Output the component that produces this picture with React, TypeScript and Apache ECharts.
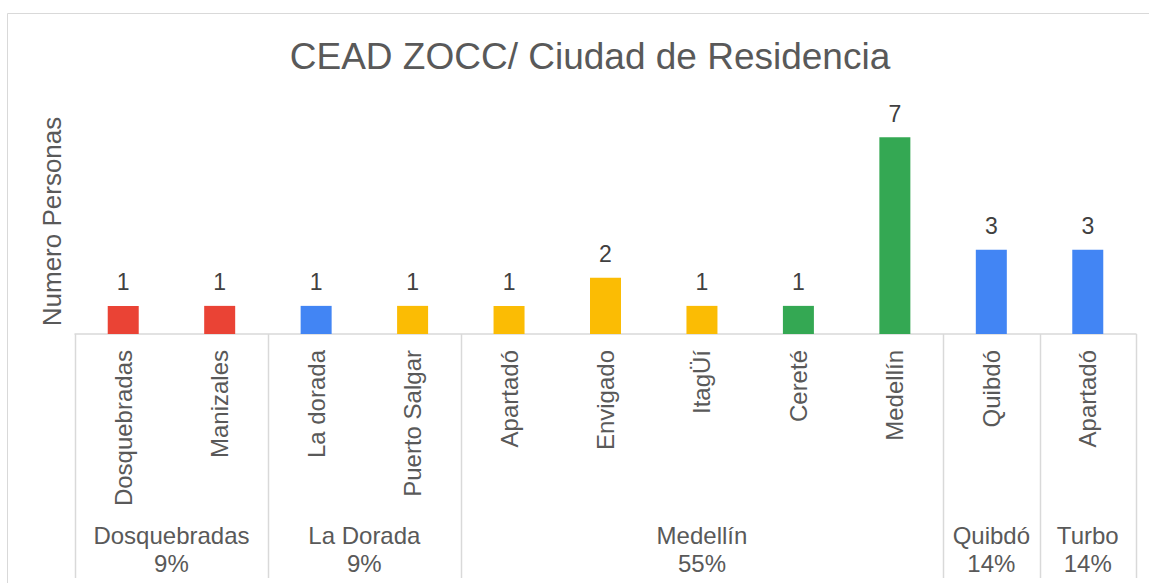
import { useEffect, useRef } from "react";
import * as echarts from "echarts";

const cityNames = ["Dosquebradas", "Manizales", "La dorada", "Puerto Salgar", "Apartadó", "Envigado", "ItagÜí", "Cereté", "Medellín", "Quibdó", "Apartadó"];
const personCounts = [1, 1, 1, 1, 1, 2, 1, 1, 7, 3, 3];
const barColors = ["#EA4335", "#EA4335", "#4285F4", "#FBBC04", "#FBBC04", "#FBBC04", "#FBBC04", "#34A853", "#34A853", "#4285F4", "#4285F4"];
const groupNames = ["Dosquebradas", "La Dorada", "Medellín", "Quibdó", "Turbo"];
const groupShares = ["9%", "9%", "55%", "14%", "14%"];
const groupSizes = [2, 2, 5, 1, 1];

const FONT = "'Liberation Sans', Arial, sans-serif";
const GRAY = "#595959";
const LINE = "#d9d9d9";

export default function App() {
  const ref = useRef<HTMLDivElement>(null);
  useEffect(() => {
    document.body.style.margin = "0";
    const chart = echarts.init(ref.current!, null, { renderer: "svg" });
    chart.setOption({
      animation: false,
      textStyle: { fontFamily: FONT },
      title: {
        text: "CEAD ZOCC/ Ciudad de Residencia",
        left: 585,
        top: 33,
        textAlign: "center",
        textStyle: { fontFamily: FONT, fontSize: 37, fontWeight: "normal", color: GRAY },
      },
      grid: { left: 75, right: 13, top: 109, bottom: 249 },
      xAxis: {
        type: "category",
        data: cityNames.map((_, i) => String(i)),
        axisLine: { show: true, lineStyle: { color: LINE, width: 1.5 } },
        axisTick: { show: false },
        axisLabel: {
          rotate: 90,
          margin: 16,
          fontSize: 24,
          color: GRAY,
          fontFamily: FONT,
          formatter: (_v: string, i: number) => cityNames[i],
        },
      },
      yAxis: {
        type: "value",
        min: 0,
        max: 8,
        interval: 1,
        axisLine: { show: false },
        axisTick: { show: false },
        axisLabel: { show: false },
        splitLine: { show: false },
        name: "Numero Personas",
        nameLocation: "middle",
        nameRotate: 90,
        nameGap: 10,
        nameTextStyle: { fontSize: 26, color: GRAY, fontFamily: FONT },
      },
      series: [
        {
          type: "bar",
          barWidth: 31,
          data: personCounts.map((v, i) => ({ value: v, itemStyle: { color: barColors[i] } })),
          label: {
            show: true,
            position: "top",
            distance: 12,
            fontSize: 23,
            color: "#404040",
            fontFamily: FONT,
          },
        },
      ],
    });

    const c0 = chart.convertToPixel({ xAxisIndex: 0 }, 0) as number;
    const c1 = chart.convertToPixel({ xAxisIndex: 0 }, 1) as number;
    const band = c1 - c0;
    const baseY = chart.convertToPixel({ yAxisIndex: 0 }, 0) as number;
    const bottomY = 578;
    const graphics: any[] = [
      {
        type: "rect",
        shape: { x: 7.5, y: 13.5, width: 1160, height: 600 },
        style: { fill: "none", stroke: LINE, lineWidth: 1 },
        silent: true,
      },
    ];
    let start = 0;
    const edge = (idx: number) => c0 + (idx - 0.5) * band;
    graphics.push({
      type: "line",
      shape: { x1: Math.round(edge(0)) + 0.5, y1: baseY, x2: Math.round(edge(0)) + 0.5, y2: bottomY },
      style: { stroke: LINE, lineWidth: 1.5 },
    });
    groupSizes.forEach((size, g) => {
      const end = start + size;
      const xL = edge(start);
      const xR = edge(end);
      graphics.push({
        type: "line",
        shape: { x1: Math.round(xR) + 0.5, y1: baseY, x2: Math.round(xR) + 0.5, y2: bottomY },
        style: { stroke: LINE, lineWidth: 1.5 },
      });
      graphics.push({
        type: "text",
        x: (xL + xR) / 2,
        y: 521,
        style: {
          text: groupNames[g] + "\n" + groupShares[g],
          align: "center",
          verticalAlign: "top",
          fontSize: 24,
          lineHeight: 28,
          fill: GRAY,
          fontFamily: FONT,
        },
      });
      start = end;
    });
    chart.setOption({ graphic: graphics });
    return () => chart.dispose();
  }, []);
  return <div ref={ref} style={{ width: 1149, height: 583 }} />;
}
